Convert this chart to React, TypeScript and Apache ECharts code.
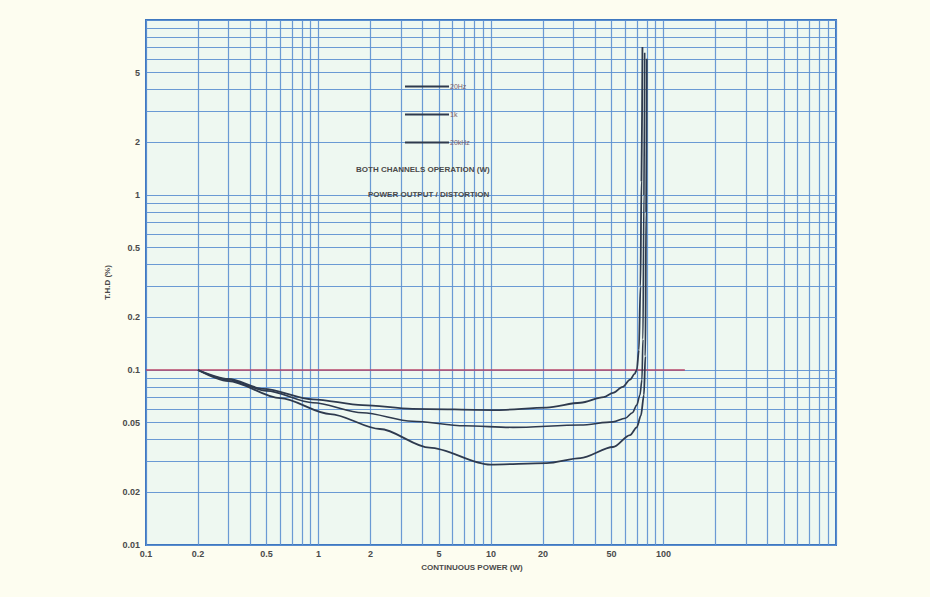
import React, { useEffect, useRef } from "react";
import * as echarts from "echarts";

// Tick labels
const xTickLabels = [0.1, 0.2, 0.5, 1, 2, 5, 10, 20, 50, 100];
const yTickLabels = [0.01, 0.02, 0.05, 0.1, 0.2, 0.5, 1, 2, 5];

// Log graph-paper rulings (1..9 per decade)
const xDecades = [0.1, 1, 10, 100];
const yDecades = [0.01, 0.1, 1];
const rulingSteps = [1, 2, 3, 4, 5, 6, 7, 8, 9];

// Reference line (0.1 %)
const refLineX = [0.1, 133];
const refLineY = [0.1, 0.1];

// Curves: power (W) vs THD (%)
const curve20kX = [0.2, 0.3, 0.48, 0.93, 1.8, 3.5, 10.8, 21, 33, 45, 51, 58, 64, 68, 70, 72, 73.5, 74.5, 75.5];
const curve20kY = [0.1, 0.089, 0.078, 0.068, 0.063, 0.06, 0.059, 0.061, 0.065, 0.07, 0.074, 0.08, 0.088, 0.095, 0.1, 0.13, 0.3, 1.2, 7];

const curve20HzX = [0.2, 0.3, 0.5, 0.93, 1.8, 3.5, 7, 13.4, 33, 51, 60, 66, 70, 73, 75, 76, 77, 77.8];
const curve20HzY = [0.1, 0.088, 0.076, 0.065, 0.057, 0.051, 0.048, 0.047, 0.0485, 0.0505, 0.053, 0.057, 0.063, 0.072, 0.088, 0.15, 1, 6.5];

const curve1kX = [0.2, 0.3, 0.6, 1.17, 2.27, 4.4, 9.9, 21, 33, 51, 64, 70, 74, 77, 78.5, 79.3, 80];
const curve1kY = [0.1, 0.0865, 0.069, 0.056, 0.046, 0.036, 0.0288, 0.0294, 0.0314, 0.0363, 0.0425, 0.047, 0.055, 0.072, 0.12, 0.8, 6];

const seriesNames = ["20Hz", "1k", "20kHz"];

const zip = (xs: number[], ys: number[]) => xs.map((x, i) => [x, ys[i]]);

export default function App() {
  const ref = useRef<HTMLDivElement>(null);

  useEffect(() => {
    if (!ref.current) return;
    const chart = echarts.init(ref.current, undefined, { renderer: "svg" });

    const xRulings: number[] = [];
    xDecades.forEach((d) => rulingSteps.forEach((k) => xRulings.push(+(d * k).toPrecision(3))));
    xRulings.push(1000);
    const yRulings: number[] = [];
    yDecades.forEach((d) => rulingSteps.forEach((k) => yRulings.push(+(d * k).toPrecision(3))));
    yRulings.push(10);

    const gridColor = "#5b8fd0";
    const labelStyle = {
      color: "#4a4a4a",
      fontSize: 9,
      fontFamily: "Liberation Sans, Arial, sans-serif",
      fontWeight: "bold" as const,
    };
    const fmt = (v: number) => String(+Number(v).toPrecision(3));

    const curveLine = (name: string, xs: number[], ys: number[], width: number) => ({
      name,
      type: "line",
      data: zip(xs, ys),
      showSymbol: false,
      symbol: "none",
      smooth: 0.3,
      smoothMonotone: "x",
      z: 4,
      lineStyle: { color: "#2e3a4e", width },
      itemStyle: { color: "#2e3a4e" },
    });

    chart.setOption({
      animation: false,
      backgroundColor: "#fdfdf0",
      grid: {
        left: 146,
        right: 94,
        top: 20,
        bottom: 52,
        show: true,
        backgroundColor: "#eef8f1",
        borderColor: "#3f78c0",
        borderWidth: 2,
      },
      xAxis: {
        type: "log",
        logBase: 10,
        min: 0.1,
        max: 1000,
        name: "CONTINUOUS POWER (W)",
        nameLocation: "middle",
        nameGap: 18,
        nameTextStyle: { ...labelStyle, fontSize: 8, padding: [0, 38, 0, 0] },
        axisLine: { show: true, lineStyle: { color: "#3f78c0", width: 2 } },
        axisTick: { show: false },
        splitLine: { show: false },
        axisLabel: {
          ...labelStyle,
          margin: 4,
          customValues: xTickLabels,
          formatter: fmt,
          hideOverlap: false,
        },
      },
      yAxis: {
        type: "log",
        logBase: 10,
        min: 0.01,
        max: 10,
        name: "T.H.D (%)",
        nameLocation: "middle",
        nameGap: 21,
        nameRotate: 90,
        nameTextStyle: { ...labelStyle, fontSize: 8, padding: [0, 0, 0, 0] },
        axisLine: { show: true, lineStyle: { color: "#3f78c0", width: 2 } },
        axisTick: { show: false },
        splitLine: { show: false },
        axisLabel: {
          ...labelStyle,
          margin: 6,
          customValues: yTickLabels,
          formatter: fmt,
        },
      },
      legend: {
        data: seriesNames.map((n) => ({ name: n, icon: "rect" })),
        orient: "vertical",
        left: 400,
        top: 78,
        itemWidth: 44,
        itemHeight: 2,
        itemGap: 21,
        textStyle: { color: "#7a5f6c", fontSize: 7, fontFamily: "Liberation Sans, Arial, sans-serif", padding: [0, 0, 0, -4] },
      },
      graphic: [
        {
          type: "text",
          left: 356,
          top: 165,
          z: 10,
          style: { text: "BOTH CHANNELS OPERATION (W)", fill: "#4a4a4a", font: "bold 8px Liberation Sans, Arial, sans-serif" },
        },
        {
          type: "text",
          left: 368,
          top: 190,
          z: 10,
          style: { text: "POWER OUTPUT / DISTORTION", fill: "#4a4a4a", font: "bold 8px Liberation Sans, Arial, sans-serif" },
        },
      ],
      series: [
        {
          name: "rulings",
          type: "line",
          data: [],
          symbol: "none",
          silent: true,
          z: 1,
          markLine: {
            silent: true,
            z: 1,
            symbol: ["none", "none"],
            label: { show: false },
            animation: false,
            lineStyle: { color: gridColor, width: 1.2, type: "solid", opacity: 0.9 },
            data: [
              ...xRulings.map((v) => ({ xAxis: v })),
              ...yRulings.map((v) => ({ yAxis: v })),
            ],
          },
        },
        {
          name: "ref",
          type: "line",
          data: zip(refLineX, refLineY),
          symbol: "none",
          silent: true,
          z: 3,
          lineStyle: { color: "#b8476a", width: 1.6 },
        },
        curveLine("20Hz", curve20HzX, curve20HzY, 1.6),
        curveLine("1k", curve1kX, curve1kY, 1.8),
        curveLine("20kHz", curve20kX, curve20kY, 1.8),
      ],
    });

    return () => chart.dispose();
  }, []);

  return (
    <div
      ref={ref}
      style={{ position: "absolute", left: 0, top: 0, width: 930, height: 597 }}
    />
  );
}
